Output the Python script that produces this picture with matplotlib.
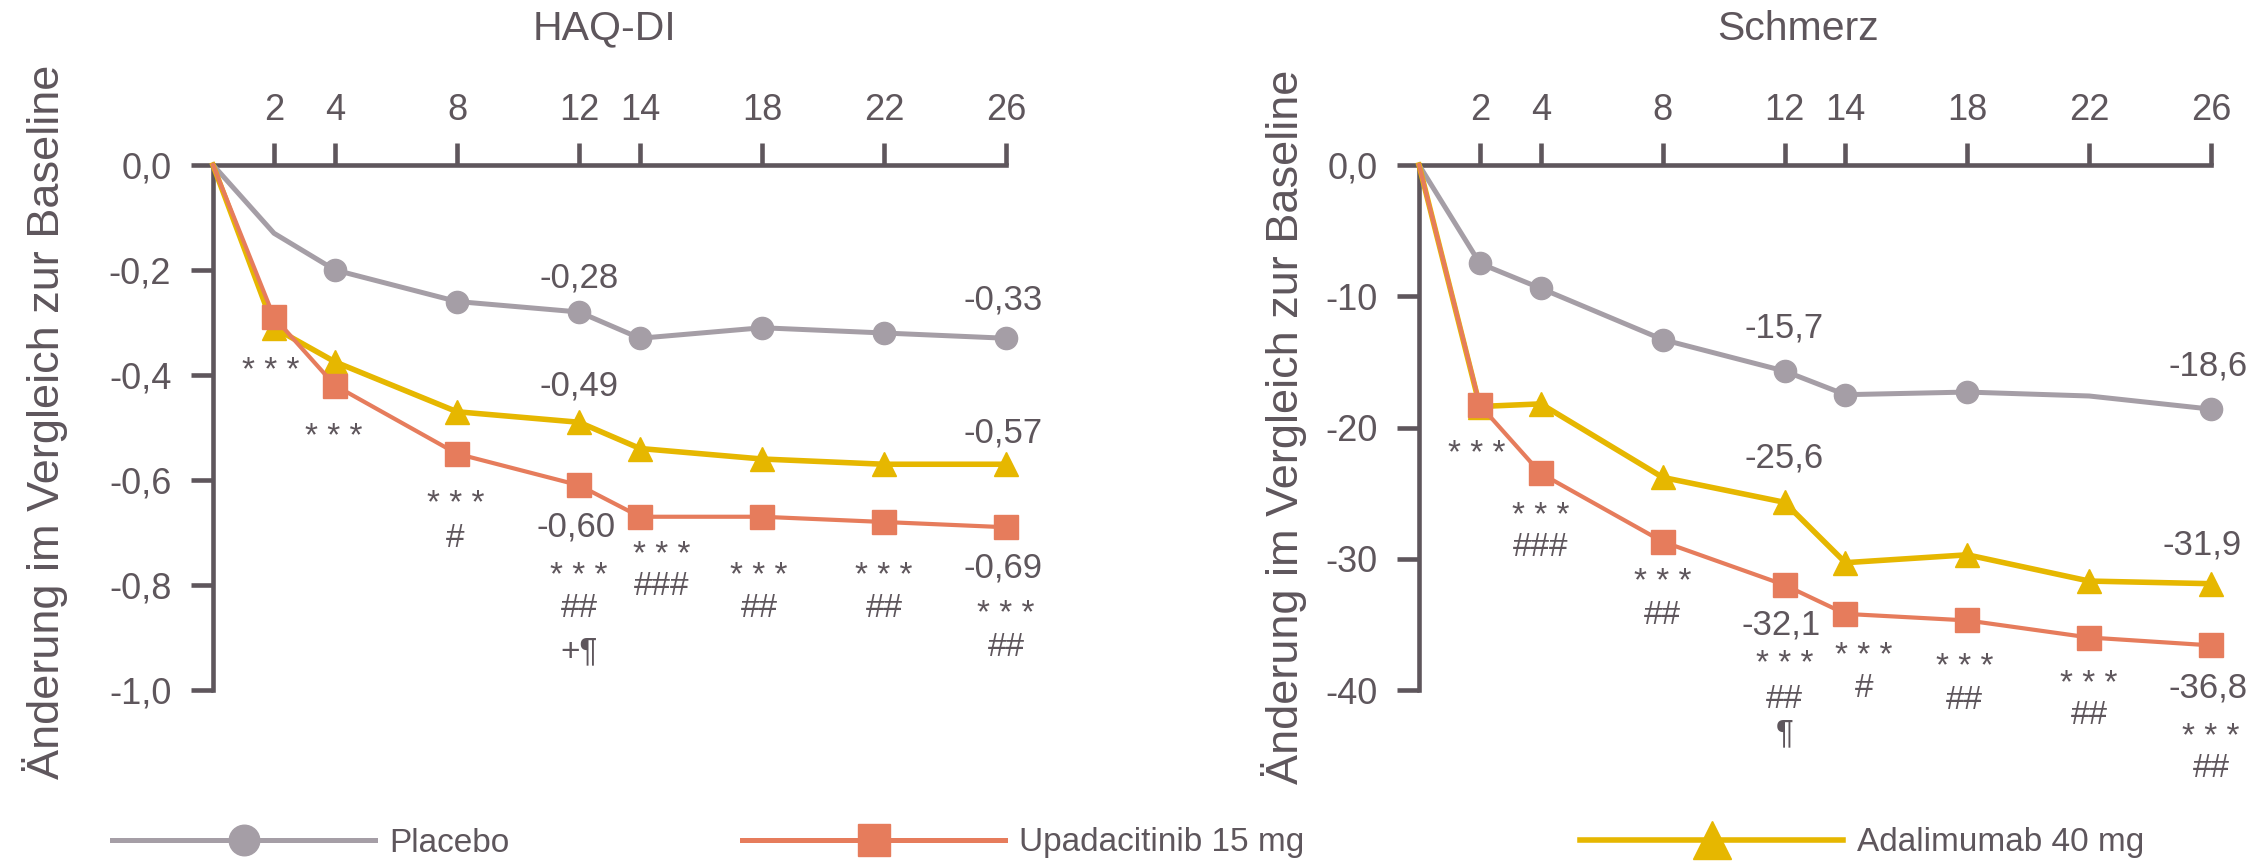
import matplotlib
matplotlib.use("Agg")
import matplotlib.pyplot as plt
from matplotlib.lines import Line2D

plt.rcParams['font.family'] = ['Liberation Sans', 'DejaVu Sans']

# ---------------- data ----------------
weeks = [0, 2, 4, 8, 12, 14, 18, 22, 26]
week_ticks = [2, 4, 8, 12, 14, 18, 22, 26]

series_names = ["Placebo", "Upadacitinib 15 mg", "Adalimumab 40 mg"]

haq_placebo = [0, -0.13, -0.20, -0.26, -0.28, -0.33, -0.31, -0.32, -0.33]
haq_upa = [0, -0.29, -0.42, -0.55, -0.61, -0.67, -0.67, -0.68, -0.69]
haq_ada = [0, -0.31, -0.375, -0.47, -0.49, -0.54, -0.56, -0.57, -0.57]

pain_placebo = [0, -7.5, -9.4, -13.3, -15.7, -17.5, -17.3, -17.6, -18.6]
pain_upa = [0, -18.3, -23.5, -28.7, -32.0, -34.2, -34.7, -36.0, -36.6]
pain_ada = [0, -18.4, -18.2, -23.8, -25.7, -30.3, -29.7, -31.7, -31.9]

# indices of points that carry a marker
haq_placebo_marks = [2, 3, 4, 5, 6, 7, 8]
pain_placebo_marks = [1, 2, 3, 4, 5, 6, 8]
treat_marks = [1, 2, 3, 4, 5, 6, 7, 8]

haq_yticks = [0, -0.2, -0.4, -0.6, -0.8, -1.0]
haq_yticklabels = ["0,0", "-0,2", "-0,4", "-0,6", "-0,8", "-1,0"]
pain_yticks = [0, -10, -20, -30, -40]
pain_yticklabels = ["0,0", "-10", "-20", "-30", "-40"]

# value labels: (week, baseline value, text)
haq_labels = [
    (12, -0.233, "-0,28"), (25.9, -0.275, "-0,33"),
    (12, -0.439, "-0,49"), (25.9, -0.529, "-0,57"),
    (11.9, -0.708, "-0,60"), (25.9, -0.786, "-0,69"),
]
pain_labels = [
    (12, -13.14, "-15,7"), (25.9, -16.04, "-18,6"),
    (12, -23.05, "-25,6"), (25.7, -29.65, "-31,9"),
    (11.9, -35.75, "-32,1"), (25.9, -40.57, "-36,8"),
]
# significance stacks: (week, [first two baseline values], [lines])
AST = "* * *"
haq_sig = [
    (1.9, [-0.41], [AST]),
    (3.95, [-0.535], [AST]),
    (7.95, [-0.663, -0.714], [AST, "#"]),
    (12, [-0.80, -0.848], [AST, "##"]),
    (12, [-0.943], ["+¶"]),
    (14.7, [-0.76, -0.806], [AST, "###"]),
    (17.9, [-0.80, -0.848], [AST, "##"]),
    (22, [-0.80, -0.848], [AST, "##"]),
    (26, [-0.872, -0.922], [AST, "##"]),
]
pain_sig = [
    (1.9, [-22.7], [AST]),
    (4, [-27.4, -29.23], [AST, "###"]),
    (8, [-32.46, -34.44], [AST, "##"]),
    (12, [-38.7, -40.8], [AST, "##", "¶"]),
    (14.6, [-38.07, -40.0], [AST, "#"]),
    (17.9, [-38.96, -40.91], [AST, "##"]),
    (22, [-40.23, -42.06], [AST, "##"]),
    (26, [-44.27, -46.1], [AST, "##"]),
]

# ---------------- style ----------------
C_PBO = "#a59ea6"
C_UPA = "#e67c5c"
C_ADA = "#e6b700"
C_AX = "#5e565c"
C_TXT = "#5e565c"

DPI = 100
W, H = 2267, 865
fig = plt.figure(figsize=(W / DPI, H / DPI), dpi=DPI)
fig.patch.set_facecolor("white")

ax1 = fig.add_axes([213 / W, 175 / H, 793 / W, 525 / H])
ax2 = fig.add_axes([1419 / W, 175 / H, 792 / W, 525 / H])


def style_axes(ax, ylim, yticks, yticklabels):
    ax.set_xlim(0, 26)
    ax.set_ylim(*ylim)
    for s in ["right", "bottom"]:
        ax.spines[s].set_visible(False)
    for s in ["top", "left"]:
        ax.spines[s].set_color(C_AX)
        ax.spines[s].set_linewidth(3.3)
    ax.xaxis.tick_top()
    ax.set_xticks(week_ticks)
    ax.set_xticklabels([str(w) for w in week_ticks])
    ax.set_yticks(yticks)
    ax.set_yticklabels(yticklabels)
    ax.tick_params(axis="x", direction="out", length=16, width=3.3, pad=11,
                   labelsize=26, colors=C_AX, labelcolor=C_TXT)
    ax.tick_params(axis="y", direction="out", length=16, width=3.3, pad=14,
                   labelsize=26, colors=C_AX, labelcolor=C_TXT)
    ax.set_facecolor("none")


def draw(ax, pbo, upa, ada, pbo_marks):
    ax.plot(weeks, pbo, color=C_PBO, lw=3.6, marker="o", ms=16,
            markevery=pbo_marks, clip_on=False, zorder=3)
    ax.plot(weeks, ada, color=C_ADA, lw=4.0, marker="^", ms=17,
            markevery=treat_marks, clip_on=False, zorder=4)
    ax.plot(weeks, upa, color=C_UPA, lw=3.0, marker="s", ms=17,
            markevery=treat_marks, clip_on=False, zorder=5)


SIG_FS = 24


def annotate(ax, labels, sig):
    for x, y, s in labels:
        ax.text(x, y, s, ha="center", va="baseline", fontsize=25,
                color=C_TXT, clip_on=False)
    asc = 0.716 * SIG_FS * DPI / 72.0  # ascent of the first line in px
    for x, bases, lines in sig:
        if len(lines) == 1:
            ax.text(x, bases[0], lines[0], ha="center", va="baseline",
                    fontsize=SIG_FS, color=C_TXT, clip_on=False)
            continue
        p0 = ax.transData.transform((x, bases[0]))
        p1 = ax.transData.transform((x, bases[1]))
        ls = (p0[1] - p1[1]) / asc
        top = ax.transData.inverted().transform((p0[0], p0[1] + asc))
        ax.text(x, top[1], "\n".join(lines), ha="center", va="top",
                fontsize=SIG_FS, color=C_TXT, linespacing=ls, clip_on=False)


style_axes(ax1, (-1.0, 0), haq_yticks, haq_yticklabels)
style_axes(ax2, (-40, 0), pain_yticks, pain_yticklabels)
draw(ax1, haq_placebo, haq_upa, haq_ada, haq_placebo_marks)
draw(ax2, pain_placebo, pain_upa, pain_ada, pain_placebo_marks)
annotate(ax1, haq_labels, haq_sig)
annotate(ax2, pain_labels, pain_sig)

# titles
fig.text(605 / W, 1 - 28.5 / H, "HAQ-DI", ha="center", va="center",
         fontsize=29.5, color=C_TXT)
fig.text(1798 / W, 1 - 28.5 / H, "Schmerz", ha="center", va="center",
         fontsize=29.5, color=C_TXT)

# y labels
ylab = "Änderung im Vergleich zur Baseline"
fig.text(45 / W, 1 - 422 / H, ylab, rotation=90, ha="center", va="center",
         fontsize=32.5, color=C_TXT)
fig.text(1284 / W, 1 - 427 / H, ylab, rotation=90, ha="center", va="center",
         fontsize=32.5, color=C_TXT)

# legend: three entries placed individually
handles = [
    Line2D([], [], color=C_PBO, lw=3.6, marker="o", ms=22),
    Line2D([], [], color=C_UPA, lw=3.6, marker="s", ms=23),
    Line2D([], [], color=C_ADA, lw=4.0, marker="^", ms=27),
]
leg_x = [112, 742, 1580]
for h, name, x in zip(handles, series_names, leg_x):
    fig.legend(handles=[h], labels=[name], loc="center left",
               bbox_to_anchor=(x / W, 22 / H), frameon=False, fontsize=24,
               handlelength=7.9, handletextpad=0.42, borderpad=0,
               borderaxespad=0, numpoints=1, labelcolor=C_TXT)

fig.savefig("out.png", dpi=DPI, facecolor="white")
